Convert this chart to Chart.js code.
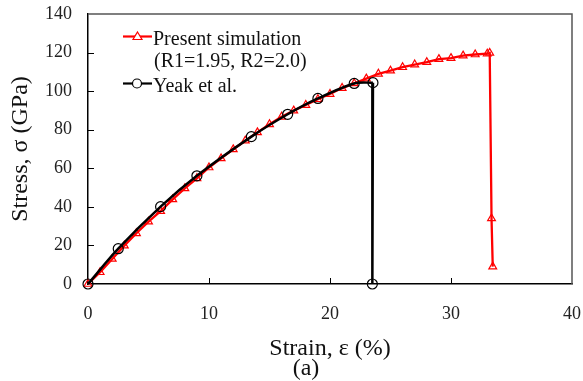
<!DOCTYPE html>
<html>
<head>
<meta charset="utf-8">
<script src="https://cdn.jsdelivr.net/npm/chart.js@4/dist/chart.umd.min.js"></script>
<style>
html,body{margin:0;padding:0;background:#fff;}
#wrap{width:583px;height:381px;position:relative;}
</style>
</head>
<body>
<div id="wrap"><canvas id="c" width="583" height="381"></canvas></div>
<script>
// ---- data ----
const simStrain = [0,1,2,3,4,5,6,7,8,9,10,11,12,13,14,15,16,17,18,19,20,21,22,23,24,25,26,27,28,29,30,31,32,33,33.2,33.35,33.45];
const simStress = [0,6.1,13.0,19.9,26.3,32.3,37.8,43.9,49.6,54.8,60.4,65.1,69.8,74.3,78.6,82.8,86.7,89.9,92.8,95.8,98.5,101.6,104.0,106.5,109.0,110.6,112.4,113.8,115.0,116.6,117.1,118.4,119.0,119.4,119.8,34,9];
const yeakStrain = [0,2.5,6,9,13.5,16.5,19,22,23.55];
const yeakStress = [0,18.3,40.1,56.1,76.4,88.0,96.2,104.0,104.4];
const yeakDropStrain = [23.55,23.5];
const yeakDropStress = [104.4,0];
const xTicks = [0,10,20,30,40];
const yTicks = [0,20,40,60,80,100,120,140];
const legendLabels = [["Present simulation","(R1=1.95, R2=2.0)"],["Yeak et al."]];

const toXY = (xs, ys) => xs.map((x, i) => ({x: x, y: ys[i]}));
const SERIF = "'Liberation Serif','Times New Roman',serif";

const framePlugin = {
  id: 'frame',
  afterDraw(chart) {
    const {ctx, chartArea: a, scales} = chart;
    ctx.save();
    ctx.strokeStyle = '#555';
    ctx.lineWidth = 1.5;
    ctx.beginPath();
    ctx.moveTo(a.left, a.top);
    ctx.lineTo(a.right, a.top);
    ctx.lineTo(a.right, a.bottom);
    ctx.stroke();
    ctx.strokeStyle = '#000';
    ctx.lineWidth = 1;
    ctx.beginPath();
    scales.x.ticks.forEach(t => {
      if (t.value <= scales.x.min || t.value >= scales.x.max) return;
      const px = Math.round(scales.x.getPixelForValue(t.value)) + 0.5;
      ctx.moveTo(px, a.bottom);
      ctx.lineTo(px, a.bottom - 6);
    });
    scales.y.ticks.forEach(t => {
      if (t.value <= scales.y.min || t.value >= scales.y.max) return;
      const py = Math.round(scales.y.getPixelForValue(t.value)) + 0.5;
      ctx.moveTo(a.left, py);
      ctx.lineTo(a.left + 6, py);
    });
    ctx.stroke();
    ctx.restore();
  }
};

const legendPlugin = {
  id: 'innerLegend',
  afterDraw(chart) {
    const {ctx} = chart;
    ctx.save();
    ctx.font = "20px " + SERIF;
    ctx.textAlign = 'left';
    ctx.textBaseline = 'alphabetic';
    ctx.strokeStyle = '#ff0000';
    ctx.lineWidth = 2.2;
    ctx.beginPath(); ctx.moveTo(123, 36.5); ctx.lineTo(152, 36.5); ctx.stroke();
    ctx.beginPath();
    ctx.moveTo(137.5, 32); ctx.lineTo(142, 39.5); ctx.lineTo(133, 39.5); ctx.closePath();
    ctx.fillStyle = '#fff'; ctx.fill();
    ctx.lineWidth = 1.2; ctx.stroke();
    ctx.fillStyle = '#111';
    ctx.fillText(legendLabels[0][0], 153, 44.5);
    ctx.fillText(legendLabels[0][1], 154, 67);
    ctx.strokeStyle = '#000';
    ctx.lineWidth = 2.2;
    ctx.beginPath(); ctx.moveTo(123, 83.5); ctx.lineTo(152, 83.5); ctx.stroke();
    ctx.beginPath(); ctx.arc(137, 83.5, 4.5, 0, Math.PI * 2);
    ctx.fillStyle = '#fff'; ctx.fill();
    ctx.lineWidth = 1.2; ctx.stroke();
    ctx.fillStyle = '#111';
    ctx.fillText(legendLabels[1][0], 153, 92);
    ctx.restore();
  }
};

new Chart(document.getElementById('c'), {
  type: 'scatter',
  data: {
    datasets: [
      {
        label: 'Present simulation',
        data: toXY(simStrain, simStress),
        showLine: true,
        borderColor: '#ff0000',
        borderWidth: 2.3,
        tension: 0,
        pointStyle: 'triangle',
        pointRadius: 4.5,
        pointBorderWidth: 1.2,
        pointBorderColor: '#ff0000',
        pointBackgroundColor: 'rgba(255,255,255,0)',
        clip: false,
        order: 2
      },
      {
        label: 'Yeak et al.',
        data: toXY(yeakStrain, yeakStress),
        showLine: true,
        borderColor: '#000',
        borderWidth: 2.5,
        tension: 0.3,
        pointStyle: 'circle',
        pointRadius: 5,
        pointBorderWidth: 1.2,
        pointBorderColor: '#000',
        pointBackgroundColor: 'rgba(255,255,255,0)',
        clip: false,
        order: 1
      },
      {
        label: 'Yeak drop',
        data: toXY(yeakDropStrain, yeakDropStress),
        showLine: true,
        borderColor: '#000',
        borderWidth: 2.5,
        tension: 0,
        pointStyle: 'circle',
        pointRadius: [0, 5],
        pointBorderWidth: 1.2,
        pointBorderColor: '#000',
        pointBackgroundColor: 'rgba(255,255,255,0)',
        clip: false,
        order: 1
      }
    ]
  },
  options: {
    responsive: false,
    animation: false,
    layout: { padding: { left: 0, right: 11, top: 14, bottom: 0 } },
    plugins: {
      legend: { display: false },
      tooltip: { enabled: false },
      title: { display: false }
    },
    scales: {
      x: {
        type: 'linear',
        min: 0, max: 40,
        afterBuildTicks: s => { s.ticks = xTicks.map(v => ({value: v})); },
        afterFit: s => { s.height = 97; s.paddingLeft = 0; s.paddingRight = 0; },
        grid: { display: true, drawOnChartArea: false, drawTicks: false },
        border: { display: true, color: '#000', width: 1.5 },
        ticks: { font: { family: SERIF, size: 18 }, color: '#222', padding: 19, maxRotation: 0 },
        title: {
          display: true,
          text: ['Strain, \u03b5 (%)', '(a)' + '\u00a0'.repeat(8)],
          font: { family: SERIF, size: 24, lineHeight: 0.85 },
          color: '#111',
          padding: { top: 0, bottom: 2 }
        }
      },
      y: {
        type: 'linear',
        min: 0, max: 140,
        afterBuildTicks: s => { s.ticks = yTicks.map(v => ({value: v})); },
        afterFit: s => { s.width = 88; s.paddingTop = 0; s.paddingBottom = 0; },
        grid: { display: true, drawOnChartArea: false, drawTicks: false },
        border: { display: true, color: '#000', width: 1.5 },
        ticks: { font: { family: SERIF, size: 18 }, color: '#222', padding: 16 },
        title: {
          display: true,
          text: 'Stress, \u03c3 (GPa)',
          font: { family: SERIF, size: 24, lineHeight: 1.2 },
          color: '#111',
          padding: { top: 6, bottom: 0 }
        }
      }
    }
  },
  plugins: [framePlugin, legendPlugin]
});
</script>
</body>
</html>
